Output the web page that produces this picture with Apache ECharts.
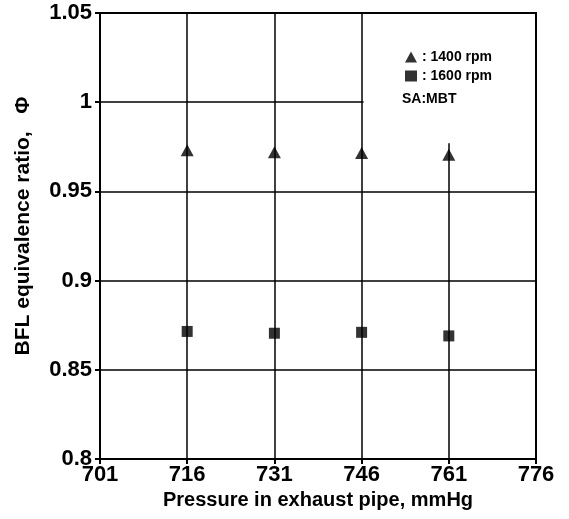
<!DOCTYPE html>
<html>
<head>
<meta charset="utf-8">
<script src="https://cdn.jsdelivr.net/npm/echarts@6/dist/echarts.min.js"></script>
<style>
  html, body { margin: 0; padding: 0; background: #fff; }
  #chart { width: 569px; height: 519px; }
</style>
</head>
<body>
<div id="chart"></div>
<script>
// pressure in exhaust pipe (mmHg)
var pressure = [716, 731, 746, 761];
// BFL equivalence ratio
var phi1400 = [0.973, 0.972, 0.9715, 0.9705];
var phi1600 = [0.8715, 0.8705, 0.871, 0.869];
// tick labels
var xTicks = [701, 716, 731, 746, 761, 776];
var yTicks = [0.8, 0.85, 0.9, 0.95, 1, 1.05];

var font = 'Liberation Sans, Arial, sans-serif';
var chart = echarts.init(document.getElementById('chart'));

function pairs(ys) {
  return pressure.map(function (x, i) { return [x, ys[i]]; });
}

var option = {
  animation: false,
  backgroundColor: '#fff',
  grid: {
    left: 100, right: 33, top: 13, bottom: 60,
    show: true, borderColor: '#000', borderWidth: 2, backgroundColor: 'transparent'
  },
  legend: {
    orient: 'vertical',
    left: 400, top: 45,
    itemWidth: 12, itemHeight: 11, itemGap: 5,
    selectedMode: false,
    formatter: function (n) { return ': ' + n; },
    textStyle: { fontFamily: font, fontSize: 14, fontWeight: 'bold', color: '#000' },
    data: [
      { name: '1400 rpm', icon: 'triangle' },
      { name: '1600 rpm', icon: 'rect' }
    ]
  },
  xAxis: {
    type: 'value',
    min: 701, max: 776,
    name: 'Pressure in exhaust pipe, mmHg',
    nameLocation: 'middle', nameGap: 31,
    nameTextStyle: { fontFamily: font, fontSize: 20, fontWeight: 'bold', color: '#000' },
    axisLine: { show: true, lineStyle: { color: '#000', width: 2 } },
    axisTick: { show: true, customValues: xTicks, length: 5, lineStyle: { color: '#000', width: 2 } },
    axisLabel: { customValues: xTicks, margin: 5, fontFamily: font, fontSize: 22, fontWeight: 'bold', color: '#000' },
    splitLine: { show: true, lineStyle: { color: '#000', width: 1.5 } }
  },
  yAxis: {
    type: 'value',
    min: 0.8, max: 1.05,
    name: 'BFL equivalence ratio,   \u03a6',
    nameLocation: 'middle', nameGap: 66,
    nameTextStyle: { fontFamily: font, fontSize: 21, fontWeight: 'bold', color: '#000', padding: [0, 0, 0, 20] },
    axisLine: { show: true, lineStyle: { color: '#000', width: 2 } },
    axisTick: { show: true, customValues: yTicks, length: 5, lineStyle: { color: '#000', width: 2 } },
    axisLabel: { customValues: yTicks, margin: 8, fontFamily: font, fontSize: 22, fontWeight: 'bold', color: '#000' },
    splitLine: { show: true, lineStyle: { color: '#000', width: 1.5 } }
  },
  series: [
    {
      name: '1400 rpm', type: 'scatter', symbol: 'triangle', symbolSize: [13, 12],
      itemStyle: { color: '#000' }, data: pairs(phi1400), z: 5
    },
    {
      name: '1600 rpm', type: 'scatter', symbol: 'rect', symbolSize: 11,
      itemStyle: { color: '#000' }, data: pairs(phi1600), z: 5
    }
  ]
};
chart.setOption(option);

// white legend box covering the upper right grid cells
var p1 = chart.convertToPixel({ gridIndex: 0 }, [746, 1.05]);
var p2 = chart.convertToPixel({ gridIndex: 0 }, [776, 0.977]);
chart.setOption({
  graphic: [
    {
      type: 'rect', z: 1,
      shape: { x: p1[0] + 2, y: p1[1] + 1, width: p2[0] - p1[0] - 3, height: p2[1] - p1[1] - 1 },
      style: { fill: '#fff' }
    },
    {
      type: 'text', z: 10, left: 402, top: 92,
      style: { text: 'SA:MBT', font: 'bold 14px ' + font, fill: '#000' }
    }
  ]
});
</script>
</body>
</html>
